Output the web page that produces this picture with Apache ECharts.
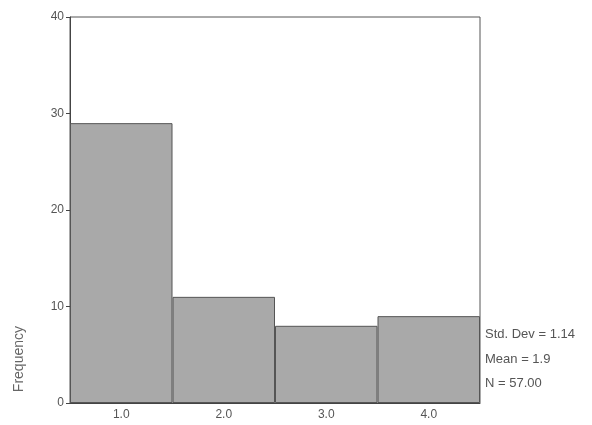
<!DOCTYPE html>
<html>
<head>
<meta charset="utf-8">
<script src="https://cdn.jsdelivr.net/npm/echarts@6/dist/echarts.min.js"></script>
<style>
  html, body { margin: 0; padding: 0; background: #fff; }
  #chart { width: 592px; height: 425px; }
</style>
</head>
<body>
<div id="chart"></div>
<script>
// histogram bins and counts
var binLabels = ['1.0', '2.0', '3.0', '4.0'];
var counts = [29, 11, 8, 9];
var yTicks = [0, 10, 20, 30, 40];
var statLines = ['Std. Dev = 1.14', 'Mean = 1.9', 'N = 57.00'];

var myChart = echarts.init(document.getElementById('chart'));

var options = {
  backgroundColor: '#fff',
  animation: false,
  grid: {
    left: 70, right: 112, top: 17, bottom: 22,
    show: true,
    borderColor: '#555', // frame round the plot
    borderWidth: 1
  },
  xAxis: {
    type: 'category',
    data: binLabels,
    boundaryGap: true,
    axisLine: { lineStyle: { color: '#444' } },
    axisTick: { alignWithLabel: true, length: 4, lineStyle: { color: '#444' } },
    axisLabel: { color: '#555', fontFamily: 'Liberation Sans', fontSize: 12, margin: 6 },
    splitLine: { show: false }
  },
  yAxis: {
    type: 'value',
    min: yTicks[0],
    max: yTicks[yTicks.length - 1],
    interval: 10,
    axisLine: { show: true, lineStyle: { color: '#444' } },
    axisTick: { show: true, length: 4, lineStyle: { color: '#444' } },
    axisLabel: { color: '#555', fontFamily: 'Liberation Sans', fontSize: 12, margin: 6 },
    splitLine: { show: false }
  },
  series: [{
    type: 'bar',
    data: counts,
    barCategoryGap: 0,
    itemStyle: {
      color: '#a9a9a9',
      borderColor: '#555',
      borderWidth: 1
    }
  }],
  graphic: [
    {
      type: 'text',
      left: 12, top: 326,
      rotation: Math.PI / 2,
      style: { text: 'Frequency', fill: '#666', font: '14px "Liberation Sans"' }
    },
    {
      type: 'text', left: 485, top: 328,
      style: { text: statLines[0], fill: '#555', font: '13px "Liberation Sans"' }
    },
    {
      type: 'text', left: 485, top: 353,
      style: { text: statLines[1], fill: '#555', font: '13px "Liberation Sans"' }
    },
    {
      type: 'text', left: 485, top: 377,
      style: { text: statLines[2], fill: '#555', font: '13px "Liberation Sans"' }
    }
  ]
};

myChart.setOption(options);
</script>
</body>
</html>
